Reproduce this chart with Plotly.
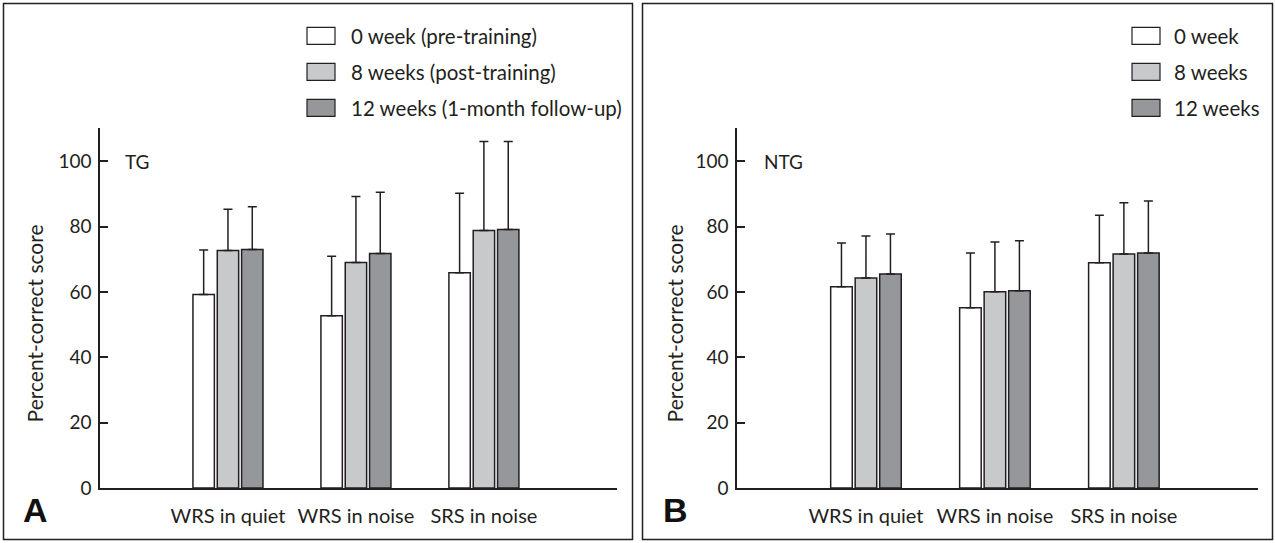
import plotly.graph_objects as go

W, H = 1275, 543
FIG_H = 553

categories = ["WRS in quiet", "WRS in noise", "SRS in noise"]
series_names_A = ["0 week (pre-training)", "8 weeks (post-training)", "12 weeks (1-month follow-up)"]
series_names_B = ["0 week", "8 weeks", "12 weeks"]
y_title = "Percent-correct score"

# Panel A (TG): means and upper SD
tg_week0 = [59.2, 52.7, 65.9]
tg_week0_sd = [13.6, 18.2, 24.3]
tg_week8 = [72.7, 69.0, 78.8]
tg_week8_sd = [12.6, 20.2, 27.2]
tg_week12 = [73.0, 71.8, 79.1]
tg_week12_sd = [13.1, 18.7, 26.9]

# Panel B (NTG)
ntg_week0 = [61.6, 55.2, 68.9]
ntg_week0_sd = [13.4, 16.7, 14.6]
ntg_week8 = [64.3, 60.1, 71.6]
ntg_week8_sd = [12.8, 15.2, 15.7]
ntg_week12 = [65.5, 60.4, 71.9]
ntg_week12_sd = [12.2, 15.3, 15.9]

y_ticks = [0, 20, 40, 60, 80, 100]

colors = ["#ffffff", "#c8c9cb", "#96979b"]
ink = "#231f20"
FONT = "Lato"
FS = 19
FS_TEXT = 20
FS_LEG = 20.5

def px_x(p):
    return p / W

def px_y(p):
    return (H - p) / H

fig = go.Figure()

panels = [
    ("x", "y", [tg_week0, tg_week8, tg_week12], [tg_week0_sd, tg_week8_sd, tg_week12_sd], series_names_A),
    ("x2", "y2", [ntg_week0, ntg_week8, ntg_week12], [ntg_week0_sd, ntg_week8_sd, ntg_week12_sd], series_names_B),
]
for xa, ya, means, sds, names in panels:
    for i in range(3):
        fig.add_trace(go.Bar(
            x=categories, y=means[i], name=names[i], xaxis=xa, yaxis=ya,
            marker=dict(color=colors[i], line=dict(color=ink, width=1.5)),
            error_y=dict(type="data", symmetric=False, array=sds[i], arrayminus=[0] * len(sds[i]),
                         color=ink, thickness=1.5, width=4.5),
            showlegend=False, hoverinfo="skip",
        ))

ydom = [px_y(489), px_y(128)]
yrange = [0, (489 - 128) / 3.275]
common_x = dict(type="category", range=[-1, 3.04], showline=True, linecolor=ink, linewidth=1.5,
                ticks="", showgrid=False, zeroline=False, fixedrange=True,
                tickfont=dict(family=FONT, size=FS_TEXT, color=ink), ticklabelstandoff=9)
common_y = dict(range=yrange, showline=True, linecolor=ink, linewidth=1.5, ticks="inside",
                ticklen=8, tickwidth=1.5, tickcolor=ink, tickvals=y_ticks, showgrid=False,
                zeroline=False, fixedrange=True, domain=ydom,
                tickfont=dict(family=FONT, size=FS, color=ink), ticklabelstandoff=3)

fig.update_layout(
    width=W, height=FIG_H, autosize=False, margin=dict(l=0, r=0, t=0, b=0),
    paper_bgcolor="white", plot_bgcolor="white",
    barmode="group", bargap=0.43, bargroupgap=0.12,
    xaxis=dict(domain=[px_x(100), px_x(617)], anchor="y", **common_x),
    yaxis=dict(anchor="x", **common_y),
    xaxis2=dict(domain=[px_x(737), px_x(1258)], anchor="y2", **common_x),
    yaxis2=dict(anchor="x2", **common_y),
)

shapes = []
annotations = []
# panel frames
for x0, x1 in [(3.5, 632.5), (642.5, 1272.5)]:
    shapes.append(dict(type="rect", xref="paper", yref="paper", x0=px_x(x0), x1=px_x(x1),
                       y0=px_y(540.5), y1=px_y(3.5), line=dict(color=ink, width=1.5)))

# legends
for names, bx, tx in [(series_names_A, 307, 349), (series_names_B, 1132, 1172)]:
    for i, nm in enumerate(names):
        yc = 36 + 36 * i
        shapes.append(dict(type="rect", xref="paper", yref="paper", x0=px_x(bx), x1=px_x(bx + 28),
                           y0=px_y(yc + 8.5), y1=px_y(yc - 8.5), fillcolor=colors[i],
                           line=dict(color=ink, width=1.2)))
        annotations.append(dict(text=nm, xref="paper", yref="paper", x=px_x(tx), y=px_y(yc),
                                xanchor="left", yanchor="middle", showarrow=False,
                                font=dict(family=FONT, size=FS_LEG, color=ink)))

# y-axis titles
for x in [34, 674]:
    annotations.append(dict(text=y_title, xref="paper", yref="paper", x=px_x(x), y=px_y(324),
                            xanchor="center", yanchor="middle", textangle=-90, showarrow=False,
                            font=dict(family=FONT, size=21, color=ink)))

# group labels inside panels
annotations.append(dict(text="TG", xref="paper", yref="paper", x=px_x(123), y=px_y(162),
                        xanchor="left", yanchor="middle", showarrow=False,
                        font=dict(family=FONT, size=FS, color=ink)))
annotations.append(dict(text="NTG", xref="paper", yref="paper", x=px_x(762), y=px_y(162),
                        xanchor="left", yanchor="middle", showarrow=False,
                        font=dict(family=FONT, size=FS, color=ink)))
# panel letters
for letter, x in [("A", 35), ("B", 675)]:
    annotations.append(dict(text="<b>%s</b>" % letter, xref="paper", yref="paper", x=px_x(x), y=px_y(511),
                            xanchor="center", yanchor="middle", showarrow=False,
                            font=dict(family="Liberation Sans", size=34, color="#111111")))

fig.update_layout(shapes=shapes, annotations=annotations)

post = (
    "document.body.style.margin='0px';document.body.style.padding='0px';"
    "document.body.style.overflow='hidden';"
)
fig.write_html("out.html", config={"displayModeBar": False, "responsive": False},
               post_script=post)
